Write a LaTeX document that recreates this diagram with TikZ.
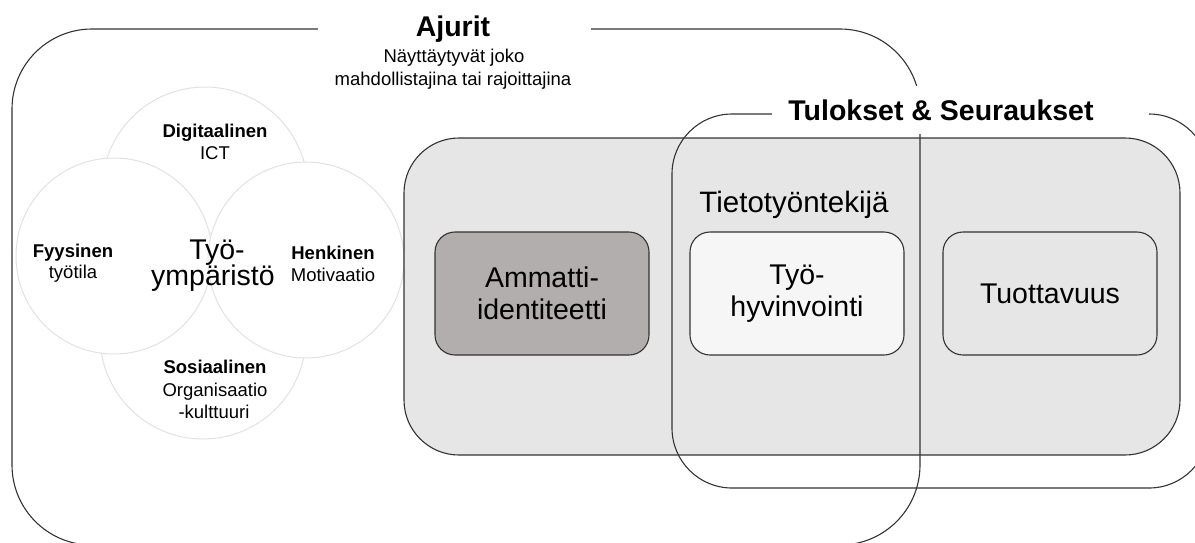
\documentclass[tikz,border=0pt]{standalone}
\usepackage{fontspec}
\setmainfont{Liberation Sans}
\definecolor{panelgray}{HTML}{E6E6E6}
\definecolor{darkbox}{HTML}{B1AEAD}
\definecolor{lightbox}{HTML}{F6F6F6}
\definecolor{ringgray}{HTML}{E2E2E2}
\definecolor{edge}{HTML}{333333}
\begin{document}
\begin{tikzpicture}[x=1pt,y=-1pt,
  ring/.style={circle, draw=ringgray, line width=1pt, fill=white, minimum size=#1, inner sep=0pt},
  frame/.style={draw=edge, line width=1.1pt},
  card/.style={draw=edge, line width=1.1pt, rounded corners=20pt, minimum width=214pt, minimum height=123pt,
    align=center, font=\fontsize{28.5}{32}\selectfont, inner sep=0pt},
  big/.style={font=\fontsize{28.5}{32}\selectfont, anchor=base, inner sep=0pt},
  bigbold/.style={font=\fontsize{28.5}{32}\selectfont\bfseries, anchor=base, inner sep=0pt},
  small/.style={font=\fontsize{18.5}{22}\selectfont, anchor=base, inner sep=0pt},
  smallbold/.style={font=\fontsize{18.5}{22}\selectfont\bfseries, anchor=base, inner sep=0pt}
]
\useasboundingbox (0,0) rectangle (1195,542);
\clip (0,0) rectangle (1195,542);

% work-environment circles
\node[ring=206pt] (cTop) at (205,190) {};
\node[ring=206pt] (cBottom) at (203,336) {};
\node[ring=196pt] (cLeft) at (114,256) {};
\node[ring=196pt] (cRight) at (306,260) {};

\node[smallbold] (digi) at (215,137) {Digitaalinen};
\node[small] (ict) at (215,159) {ICT};
\node[smallbold] (fyys) at (73,257) {Fyysinen};
\node[small] (tyotila) at (73,278) {työtila};
\node[smallbold] (henk) at (333,259) {Henkinen};
\node[small] (moti) at (333,281) {Motivaatio};
\node[smallbold] (sosi) at (215,373) {Sosiaalinen};
\node[small] (org) at (215,396) {Organisaatio};
\node[small] (kult) at (214,418) {-kulttuuri};
\node[big] (tyo1) at (217,259) {Työ-};
\node[big] (tyo2) at (213,285) {ympäristö};

% grey panel
\draw[frame, fill=panelgray, rounded corners=55pt] (404,138) rectangle (1180,455);

% outer frames
\draw[frame, rounded corners=80pt] (12,29) rectangle (920,545);
\draw[frame, rounded corners=60pt] (672,114) rectangle (1209,488);

% boxes
\node[card, fill=darkbox] (amm) at (542,293.5) {Ammatti-\\identiteetti};
\node[card, fill=lightbox] (hyv) at (797,293.5) {Työ-\\hyvinvointi};
\node[card, fill=panelgray] (tuot) at (1050,293.5) {Tuottavuus};
\node[big, font=\fontsize{29.5}{32}\selectfont] (tieto) at (794,212) {Tietotyöntekijä};

% titles over the frame lines
\fill[white] (318,0) rectangle (591,70);
\node[bigbold] (ajurit) at (453,36) {Ajurit};
\node[small] (ajs1) at (454,62) {Näyttäytyvät joko};
\node[small] (ajs2) at (453,85) {mahdollistajina tai rajoittajina};

\fill[white] (772,86) rectangle (1149,134);
\node[bigbold] (tulos) at (941,120) {Tulokset \& Seuraukset};
\end{tikzpicture}
\end{document}
